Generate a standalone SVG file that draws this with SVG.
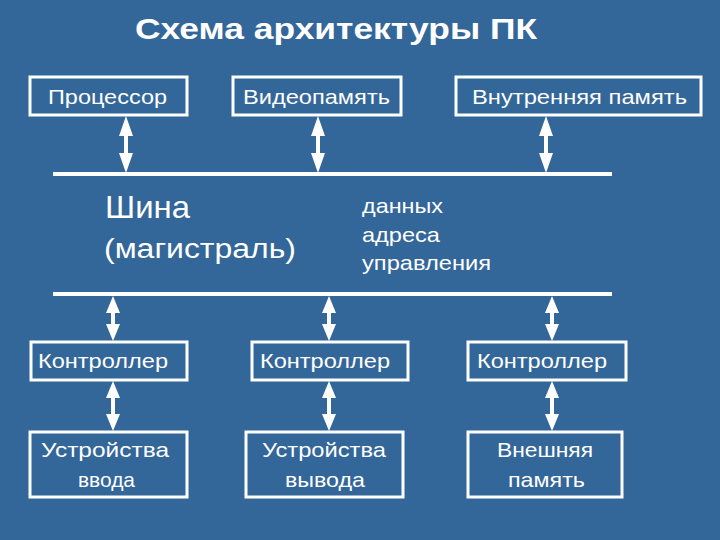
<svg xmlns="http://www.w3.org/2000/svg" width="720" height="540" viewBox="0 0 720 540">
<style>
.bg{fill:#336699}
.box{fill:none;stroke:#fff;stroke-width:3}
.t{font-family:"Liberation Sans",Arial,sans-serif;fill:#fff;font-size:21px}
.bus{stroke:#fff;stroke-width:4}
.arr{fill:#fff}
</style>
<rect class="bg" x="0" y="0" width="720" height="540"/>
<text x="135" y="39" textLength="402" lengthAdjust="spacingAndGlyphs" style="font-family:'Liberation Sans',Arial,sans-serif;font-weight:bold;font-size:30px;fill:#fff">Схема архитектуры ПК</text>
<g id="cpu"><rect class="box" x="30" y="77" width="157" height="38"/><text class="t" x="48" y="104" textLength="119" lengthAdjust="spacingAndGlyphs">Процессор</text></g>
<g id="video"><rect class="box" x="233" y="77" width="168" height="38"/><text class="t" x="243" y="104" textLength="147" lengthAdjust="spacingAndGlyphs">Видеопамять</text></g>
<g id="ram"><rect class="box" x="456" y="77" width="245" height="38"/><text class="t" x="472" y="104" textLength="215" lengthAdjust="spacingAndGlyphs">Внутренняя память</text></g>
<g id="bus">
<line class="bus" x1="53" y1="174" x2="612" y2="174"/>
<line class="bus" x1="53" y1="294" x2="612" y2="294"/>
<text x="105" y="218" textLength="85" lengthAdjust="spacingAndGlyphs" style="font-family:'Liberation Sans',Arial,sans-serif;font-size:32px;fill:#fff">Шина</text>
<text x="104" y="258" textLength="192" lengthAdjust="spacingAndGlyphs" style="font-family:'Liberation Sans',Arial,sans-serif;font-size:27px;fill:#fff">(магистраль)</text>
<text class="t" x="362" y="213" textLength="81" lengthAdjust="spacingAndGlyphs">данных</text>
<text class="t" x="362" y="242" textLength="78" lengthAdjust="spacingAndGlyphs">адреса</text>
<text class="t" x="362" y="270" textLength="129" lengthAdjust="spacingAndGlyphs">управления</text>
</g>
<g id="ctrl1"><rect class="box" x="31" y="342" width="156" height="38"/><text class="t" x="38" y="368" textLength="130" lengthAdjust="spacingAndGlyphs">Контроллер</text></g>
<g id="ctrl2"><rect class="box" x="252" y="342" width="156" height="38"/><text class="t" x="260" y="368" textLength="130" lengthAdjust="spacingAndGlyphs">Контроллер</text></g>
<g id="ctrl3"><rect class="box" x="468" y="342" width="158" height="38"/><text class="t" x="477" y="368" textLength="130" lengthAdjust="spacingAndGlyphs">Контроллер</text></g>
<g id="in"><rect class="box" x="30" y="432" width="157" height="65"/><text class="t" x="41" y="457" textLength="128" lengthAdjust="spacingAndGlyphs">Устройства</text><text class="t" x="78" y="487" textLength="57" lengthAdjust="spacingAndGlyphs">ввода</text></g>
<g id="out"><rect class="box" x="246" y="432" width="157" height="65"/><text class="t" x="262" y="457" textLength="124" lengthAdjust="spacingAndGlyphs">Устройства</text><text class="t" x="285" y="487" textLength="80" lengthAdjust="spacingAndGlyphs">вывода</text></g>
<g id="ext"><rect class="box" x="468" y="432" width="154" height="65"/><text class="t" x="497" y="457" textLength="96" lengthAdjust="spacingAndGlyphs">Внешняя</text><text class="t" x="508" y="487" textLength="77" lengthAdjust="spacingAndGlyphs">память</text></g>
<g id="connectors" class="arr">
<path d="M126 116 l7 20 h-5 v17 h5 l-7 20 l-7 -20 h5 v-17 h-5 z"/>
<path d="M318 116 l7 20 h-5 v17 h5 l-7 20 l-7 -20 h5 v-17 h-5 z"/>
<path d="M546 116 l7 20 h-5 v17 h5 l-7 20 l-7 -20 h5 v-17 h-5 z"/>
<path d="M113 296 l7 17 h-5 v11 h5 l-7 17 l-7 -17 h5 v-11 h-5 z"/>
<path d="M329 296 l7 17 h-5 v11 h5 l-7 17 l-7 -17 h5 v-11 h-5 z"/>
<path d="M552 296 l7 17 h-5 v11 h5 l-7 17 l-7 -17 h5 v-11 h-5 z"/>
<path d="M113 381 l7 17 h-5 v16 h5 l-7 17 l-7 -17 h5 v-16 h-5 z"/>
<path d="M329 381 l7 17 h-5 v16 h5 l-7 17 l-7 -17 h5 v-16 h-5 z"/>
<path d="M552 381 l7 17 h-5 v16 h5 l-7 17 l-7 -17 h5 v-16 h-5 z"/>
</g>
</svg>
